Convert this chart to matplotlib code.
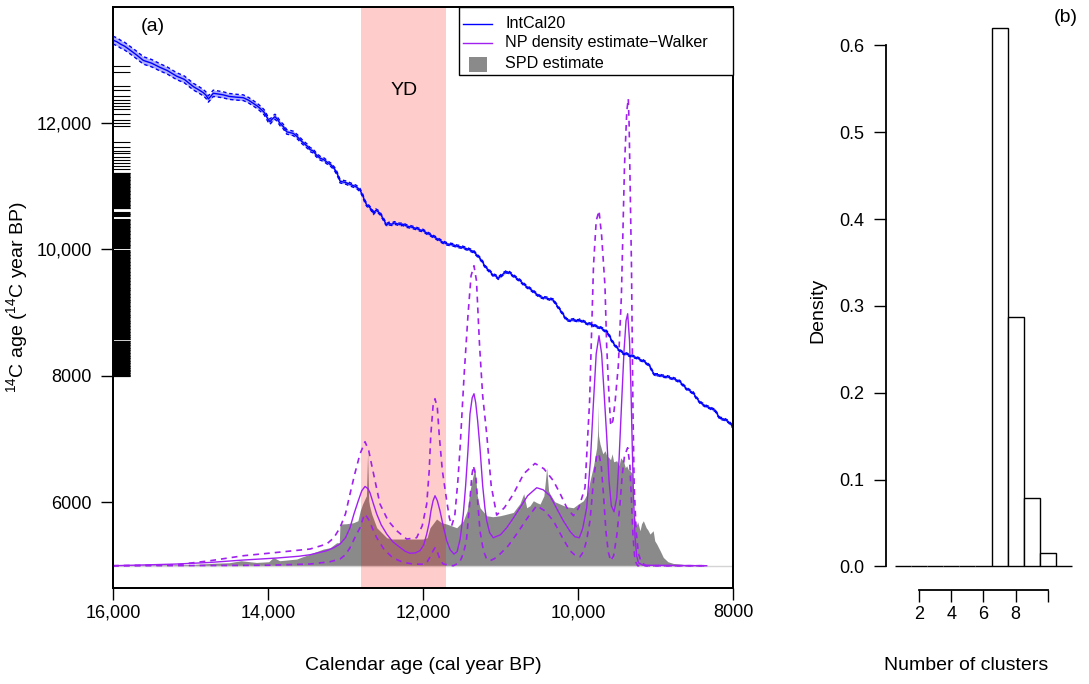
import numpy as np
import matplotlib
matplotlib.use("Agg")
import matplotlib.pyplot as plt
from matplotlib.patches import Rectangle
from matplotlib.lines import Line2D

plt.rcParams['font.family'] = ['Liberation Sans', 'DejaVu Sans']
plt.rcParams['mathtext.default'] = 'regular'

# ---------------- IntCal20 calibration curve (cal BP, 14C BP, 2-sigma half width)
intcal_cal = [16000, 15950, 15900, 15850, 15781, 15700, 15609, 15500, 15394, 15300,
              15178, 15080, 14963, 14900, 14835, 14800, 14770, 14740, 14706, 14650,
              14577, 14500, 14405, 14319, 14250, 14190, 14140, 14103, 14050, 14000,
              13974, 13940, 13910, 13880, 13845, 13800, 13759, 13720, 13673, 13620,
              13565, 13520, 13480, 13458, 13420, 13380, 13329, 13280, 13221, 13180,
              13140, 13113, 13090, 13071, 13040, 13000, 12942, 12900, 12860, 12813,
              12780, 12750, 12726, 12700, 12670, 12640, 12610, 12580, 12555, 12520,
              12490, 12468, 12440, 12400, 12370, 12339, 12300, 12260, 12210, 12168,
              12120, 12080, 12039, 12000, 11950, 11900, 11867, 11830, 11790, 11750,
              11694, 11650, 11600, 11560, 11523, 11480, 11430, 11390, 11351, 11310,
              11265, 11230, 11200, 11160, 11135, 11100, 11060, 11028, 11000, 10960,
              10920, 10880, 10840, 10791, 10750, 10700, 10662, 10620, 10580, 10540,
              10490, 10450, 10400, 10360, 10318, 10280, 10232, 10200, 10170, 10146,
              10100, 10050, 10000, 9974, 9930, 9880, 9840, 9802, 9760, 9720,
              9680, 9630, 9600, 9570, 9544, 9500, 9460, 9415, 9380, 9340,
              9286, 9240, 9200, 9160, 9114, 9070, 9040, 9006, 8960, 8920,
              8856, 8800, 8750, 8684, 8640, 8600, 8560, 8512, 8470, 8430,
              8400, 8339, 8300, 8260, 8232, 8200, 8168, 8120, 8090, 8061,
              8030, 8000]
intcal_c14 = [13310, 13285, 13245, 13215, 13154, 13080, 12990, 12945, 12880, 12830,
              12740, 12690, 12575, 12530, 12480, 12440, 12380, 12420, 12470, 12460,
              12445, 12420, 12408, 12400, 12360, 12312, 12270, 12232, 12170, 12060,
              12021, 12070, 12100, 12060, 11995, 11940, 11860, 11850, 11835, 11780,
              11710, 11660, 11620, 11580, 11560, 11500, 11445, 11420, 11365, 11330,
              11270, 11210, 11150, 11080, 11070, 11060, 11030, 11010, 10990, 10940,
              10860, 10760, 10705, 10680, 10640, 10575, 10620, 10600, 10570, 10500,
              10430, 10390, 10410, 10400, 10420, 10410, 10395, 10400, 10370, 10360,
              10345, 10330, 10310, 10300, 10260, 10230, 10205, 10180, 10150, 10120,
              10090, 10080, 10070, 10050, 10045, 10030, 10010, 9990, 9970, 9920,
              9860, 9800, 9730, 9680, 9650, 9600, 9580, 9545, 9580, 9620,
              9650, 9630, 9590, 9545, 9510, 9450, 9412, 9380, 9340, 9300,
              9255, 9240, 9230, 9215, 9200, 9130, 9045, 8990, 8930, 8890,
              8880, 8890, 8870, 8885, 8860, 8830, 8820, 8805, 8780, 8770,
              8740, 8700, 8650, 8570, 8520, 8450, 8400, 8360, 8350, 8330,
              8307, 8290, 8260, 8240, 8202, 8150, 8070, 8016, 8020, 8000,
              7990, 7970, 7950, 7910, 7850, 7800, 7770, 7730, 7650, 7590,
              7560, 7515, 7500, 7470, 7460, 7390, 7330, 7320, 7300, 7280,
              7240, 7190]
intcal_sd2 = [62, 62, 62, 61, 60, 60, 59, 58, 57, 56,
              55, 54, 53, 52, 51, 51, 50, 50, 50, 49,
              48, 47, 46, 45, 44, 43, 42, 42, 41, 40,
              40, 39, 39, 38, 38, 37, 36, 36, 35, 34,
              34, 33, 33, 32, 32, 31, 30, 30, 29, 29,
              28, 28, 27, 27, 27, 26, 26, 25, 25, 25,
              24, 24, 24, 23, 23, 23, 23, 22, 22, 22,
              22, 22, 22, 21, 21, 21, 21, 21, 21, 21,
              20, 20, 20, 20, 20, 20, 20, 20, 20, 20,
              20, 20, 20, 20, 20, 20, 20, 20, 20, 20,
              19, 19, 19, 19, 19, 19, 19, 19, 19, 19,
              19, 19, 19, 19, 19, 19, 19, 19, 19, 19,
              18, 18, 18, 18, 18, 18, 18, 18, 18, 18,
              18, 18, 18, 18, 18, 18, 18, 18, 18, 18,
              18, 18, 18, 18, 18, 18, 18, 18, 18, 18,
              18, 18, 18, 18, 18, 18, 18, 18, 18, 18,
              18, 18, 18, 18, 18, 18, 18, 18, 18, 18,
              18, 18, 18, 18, 18, 18, 18, 18, 18, 18,
              18, 18]

# ---------------- observed 14C determinations (rug)
rug_c14 = [8000, 8004, 8015, 8022, 8031, 8046, 8053, 8060, 8074, 8081, 8095, 8102, 8110,
           8126, 8133, 8147, 8158, 8164, 8179, 8190, 8201, 8208, 8222, 8236, 8243, 8257,
           8266, 8280, 8288, 8299, 8314, 8322, 8335, 8345, 8358, 8370, 8377, 8391, 8404,
           8412, 8427, 8436, 8450, 8458, 8471, 8485, 8494, 8505, 8519, 8527, 8540, 8553,
           8561, 8577, 8589, 8597, 8612, 8620, 8634, 8648, 8655, 8668, 8680, 8691, 8703,
           8716, 8724, 8739, 8750, 8758, 8772, 8785, 8796, 8807, 8820, 8833, 8841, 8856,
           8869, 8877, 8890, 8903, 8914, 8925, 8938, 8946, 8961, 8972, 8985, 8993, 9008,
           9020, 9031, 9042, 9055, 9063, 9078, 9090, 9101, 9113, 9127, 9136, 9150, 9162,
           9170, 9185, 9197, 9208, 9219, 9233, 9245, 9253, 9268, 9281, 9290, 9304, 9316,
           9327, 9340, 9352, 9361, 9376, 9390, 9398, 9412, 9425, 9436, 9447, 9460, 9472,
           9485, 9496, 9508, 9521, 9533, 9544, 9557, 9568, 9582, 9594, 9603, 9617, 9630,
           9641, 9652, 9666, 9677, 9690, 9701, 9713, 9726, 9738, 9749, 9762, 9774, 9786,
           9797, 9810, 9823, 9834, 9846, 9858, 9870, 9883, 9895, 9906, 9919, 9931, 9943,
           9955, 9968, 9980, 9992, 10030, 10041, 10054, 10066, 10079, 10090, 10103, 10115,
           10127, 10139, 10152, 10164, 10176, 10189, 10200, 10213, 10225, 10238, 10250,
           10262, 10274, 10287, 10299, 10311, 10324, 10336, 10348, 10360, 10373, 10385,
           10397, 10410, 10422, 10434, 10446, 10459, 10471, 10490, 10531, 10543, 10556,
           10568, 10580, 10597, 10650, 10662, 10675, 10686, 10699, 10711, 10722, 10736,
           10748, 10760, 10772, 10785, 10797, 10810, 10822, 10834, 10846, 10859, 10871,
           10883, 10896, 10908, 10920, 10932, 10945, 10957, 10969, 10982, 10994, 11006,
           11018, 11031, 11043, 11055, 11068, 11080, 11092, 11104, 11117, 11129, 11141,
           11153, 11166, 11178, 11190, 11202, 11211, 11280, 11317, 11370, 11413, 11465,
           11519, 11561, 11624, 11703, 11952, 11995, 12048, 12143, 12217, 12270, 12323,
           12365, 12429, 12524, 12587, 12805, 12894]

# ---------------- summed probability distribution (relative density units)
spd_cal = [16000, 15500, 15000, 14700, 14500, 14350, 14150, 13990, 13931, 13850,
           13630, 13458, 13286, 13200, 13114, 13080, 13071, 12990, 12900, 12840,
           12810, 12780, 12730, 12715, 12700, 12690, 12662, 12597, 12468, 12400,
           12200, 12000, 11948, 11910, 11825, 11760, 11694, 11565, 11480, 11430,
           11394, 11360, 11330, 11300, 11265, 11178, 11100, 11006, 10950, 10900,
           10834, 10790, 10750, 10700, 10662, 10620, 10576, 10530, 10490, 10440,
           10404, 10380, 10361, 10300, 10232, 10150, 10060, 9990, 9931, 9880,
           9845, 9800, 9759, 9745, 9740, 9735, 9716, 9680, 9650, 9630,
           9600, 9580, 9560, 9540, 9500, 9470, 9450, 9410, 9390, 9372,
           9350, 9329, 9300, 9286, 9270, 9250, 9230, 9200, 9180, 9157,
           9120, 9100, 9071, 9030, 9010, 8984, 8940, 8899, 8840, 8770,
           8555, 8340]
spd_val = [0.5, 0.8, 1.2, 2.5, 3.0, 5.0, 3.3, 4.0, 8.3, 5.0,
           6.7, 11.7, 16.7, 18.0, 23.0, 23.0, 41.7, 42.0, 43.0, 45.0,
           55.0, 61.7, 70.0, 113.0, 65.0, 60.0, 51.7, 38.0, 28.0, 26.7,
           26.7, 26.7, 28.0, 38.0, 46.7, 43.0, 41.7, 38.0, 45.0, 55.0,
           75.0, 88.0, 98.0, 70.0, 58.0, 50.0, 49.0, 50.0, 51.0, 52.0,
           53.3, 58.0, 62.0, 72.0, 58.0, 60.0, 65.0, 63.0, 61.7, 70.0,
           98.0, 75.0, 71.7, 64.0, 61.7, 59.0, 58.0, 62.0, 65.0, 72.0,
           85.0, 100.0, 118.0, 135.0, 160.0, 130.0, 121.7, 112.0, 115.0, 110.0,
           108.0, 106.0, 112.0, 104.0, 105.0, 100.0, 108.0, 104.0, 98.0, 100.0,
           96.0, 95.0, 92.0, 38.0, 50.0, 40.0, 44.0, 35.0, 42.0, 45.0,
           38.0, 36.0, 31.7, 35.0, 25.0, 21.7, 15.0, 8.3, 4.0, 2.3,
           0.7, 0.0]

# ---------------- NP density estimate: posterior mean and 95% interval
np_cal = [16000, 15500, 15178, 14748, 14319, 13888, 13600, 13458, 13243, 13150,
          13071, 13000, 12942, 12890, 12835, 12790, 12748, 12710, 12684, 12640,
          12597, 12540, 12468, 12390, 12297, 12230, 12168, 12100, 12039, 11990,
          11952, 11920, 11897, 11870, 11845, 11815, 11781, 11740, 11694, 11650,
          11600, 11560, 11520, 11480, 11450, 11420, 11394, 11365, 11342, 11320,
          11295, 11265, 11230, 11200, 11178, 11140, 11093, 11000, 10920, 10840,
          10748, 10650, 10533, 10450, 10361, 10280, 10190, 10100, 10040, 9983,
          9940, 9888, 9840, 9803, 9765, 9729, 9695, 9665, 9630, 9600,
          9570, 9535, 9500, 9471, 9436, 9406, 9380, 9359, 9335, 9316,
          9300, 9286, 9265, 9243, 9220, 9161, 8339]
np_mean = [0.0, 1.0, 1.7, 3.3, 5.7, 7.7, 9.5, 11.0, 15.0, 18.0,
           21.7, 28.0, 38.0, 52.0, 65.0, 75.0, 79.3, 77.0, 73.0, 62.0,
           51.7, 41.0, 31.7, 24.0, 18.3, 14.5, 12.5, 12.8, 15.0, 21.0,
           31.7, 43.0, 55.0, 65.0, 70.0, 65.0, 55.0, 40.0, 25.0, 16.0,
           11.7, 14.0, 27.0, 51.7, 80.0, 115.0, 151.7, 168.0, 172.0, 163.0,
           145.0, 118.0, 80.0, 57.0, 45.0, 33.0, 28.0, 31.0, 38.0, 47.0,
           58.0, 70.0, 78.0, 76.0, 70.0, 58.0, 45.0, 34.0, 29.0, 28.0,
           37.0, 58.0, 105.0, 160.0, 212.0, 230.0, 212.0, 175.0, 130.0, 85.0,
           60.0, 54.0, 68.0, 105.0, 165.0, 215.0, 245.0, 252.0, 225.0, 175.0,
           120.0, 75.0, 30.0, 10.0, 3.0, 0.5, 0.0]
np_up_cal = [16000, 15500, 15178, 14748, 14319, 13888, 13458, 13243, 13150, 13071,
             13000, 12942, 12880, 12813, 12748, 12700, 12660, 12600, 12555, 12450,
             12339, 12211, 12082, 12010, 11952, 11920, 11900, 11870, 11845, 11815,
             11790, 11750, 11694, 11660, 11630, 11590, 11550, 11520, 11470, 11420,
             11380, 11342, 11310, 11270, 11230, 11178, 11120, 11049, 10950, 10834,
             10700, 10555, 10440, 10318, 10230, 10146, 10060, 9990, 9910, 9850,
             9800, 9765, 9729, 9695, 9652, 9630, 9600, 9578, 9550, 9520,
             9480, 9440, 9400, 9370, 9351, 9340, 9310, 9290, 9275, 9250,
             9220, 9180, 9120, 8339]
np_upper = [0.0, 0.5, 1.0, 5.0, 10.0, 13.3, 16.7, 21.7, 28.0, 38.0,
            52.0, 71.7, 92.0, 111.7, 124.0, 115.0, 100.0, 78.0, 61.7, 45.0,
            35.0, 26.7, 28.0, 40.0, 61.7, 95.0, 130.0, 160.0, 167.0, 158.0,
            130.0, 95.0, 65.0, 48.0, 40.0, 50.0, 85.0, 120.0, 190.0, 250.0,
            290.0, 300.0, 285.0, 220.0, 170.0, 131.7, 80.0, 50.7, 58.0, 71.7,
            92.0, 102.3, 97.0, 85.0, 72.0, 58.3, 50.0, 58.0, 78.0, 165.0,
            300.0, 345.0, 355.0, 330.0, 280.0, 220.0, 170.0, 140.0, 145.0, 165.0,
            200.0, 270.0, 400.0, 455.0, 467.0, 440.0, 300.0, 150.0, 80.0, 35.0,
            12.0, 3.0, 0.0, 0.0]
np_lo_cal = [16000, 14500, 14000, 13458, 13200, 13071, 13000, 12942, 12880, 12813,
             12770, 12748, 12700, 12650, 12597, 12500, 12390, 12260, 12130, 12000,
             11952, 11900, 11870, 11845, 11815, 11780, 11740, 11610, 11530, 11480,
             11440, 11400, 11370, 11350, 11320, 11290, 11265, 11220, 11180, 11135,
             11080, 11006, 10900, 10791, 10650, 10533, 10430, 10318, 10200, 10103,
             10030, 9974, 9930, 9890, 9845, 9800, 9760, 9730, 9700, 9670,
             9640, 9610, 9578, 9540, 9500, 9460, 9430, 9400, 9359, 9330,
             9310, 9290, 9270, 9250, 9230, 8339]
np_lower = [0.0, 0.3, 0.5, 1.7, 4.0, 6.7, 11.0, 18.0, 28.0, 38.0,
            48.0, 51.7, 46.0, 37.0, 28.0, 16.0, 8.0, 3.5, 1.7, 1.5,
            3.0, 10.0, 15.0, 18.0, 14.0, 6.0, 1.7, 0.0, 3.0, 12.0,
            25.0, 60.0, 90.0, 100.0, 90.0, 60.0, 35.0, 15.0, 7.0, 5.0,
            7.0, 11.7, 20.0, 31.7, 48.0, 60.0, 55.0, 45.0, 28.0, 15.0,
            10.0, 9.0, 14.0, 25.0, 45.0, 85.0, 110.0, 112.0, 100.0, 70.0,
            35.0, 14.0, 5.0, 10.0, 30.0, 60.0, 90.0, 110.0, 118.0, 100.0,
            65.0, 30.0, 10.0, 3.0, 0.0, 0.0]

# ---------------- posterior number of clusters
n_clusters = [1, 2, 3, 4, 5, 6, 7, 8, 9, 10, 11]
cluster_density = [0, 0, 0, 0, 0, 0, 0.620, 0.287, 0.079, 0.015, 0.001]

YD_START, YD_END = 12800, 11700
DENS_BASE_C14 = 5000        # 14C level where the density baseline sits
C14_PER_DENS_UNIT = 15.81   # vertical scaling of density onto the 14C axis

BLUE = '#0000FF'
PURPLE = '#A020F0'
GREY = '#8a8a8a'
TICK_LEN, TICK_PAD = 8.3, 7.0

W, H = 1089, 684
fig = plt.figure(figsize=(W / 100, H / 100), dpi=100)

# ---- panel (a)
AX_L, AX_R, AX_T, AX_B = 113, 733, 6.5, 588
ax_d = fig.add_axes([AX_L / W, (H - AX_B) / H, (AX_R - AX_L) / W, (AX_B - AX_T) / H])
ax = ax_d.twinx()
ax.set_zorder(ax_d.get_zorder() + 1)
ax.patch.set_visible(False)

ax_d.set_xlim(16000, 8000)
ylo, yhi = 4648, 13842
ax.set_ylim(ylo, yhi)
ax_d.set_ylim((ylo - DENS_BASE_C14) / C14_PER_DENS_UNIT,
              (yhi - DENS_BASE_C14) / C14_PER_DENS_UNIT)

# SPD, YD band and NP density (lower layer)
ax_d.fill_between(spd_cal, 0, spd_val, color=GREY, lw=0, zorder=1)
ax_d.axhline(0, color='#d4d4d4', lw=1.0, zorder=1.5)
ax_d.axvspan(YD_START, YD_END, color='red', alpha=0.2, lw=0, zorder=2)
ax_d.plot(np_cal, np_mean, color=PURPLE, lw=1.0, zorder=3)
ax_d.plot(np_up_cal, np_upper, color=PURPLE, lw=1.2, dashes=(3.5, 3), zorder=3)
ax_d.plot(np_lo_cal, np_lower, color=PURPLE, lw=1.2, dashes=(3.5, 3), zorder=3)
ax_d.text(12250, 475, 'YD', ha='center', va='center', fontsize=14)

# IntCal20 curve and rug (upper layer)
c14 = np.array(intcal_c14, float)
sd2 = np.array(intcal_sd2, float)
ax.fill_between(intcal_cal, c14 - sd2, c14 + sd2, color='#8c8cff', alpha=0.7, lw=0)
ax.plot(intcal_cal, c14 + sd2, color=BLUE, lw=1.0, dashes=(2.5, 2))
ax.plot(intcal_cal, c14 - sd2, color=BLUE, lw=1.0, dashes=(2.5, 2))
ax.plot(intcal_cal, c14, color=BLUE, lw=1.0)
ax.hlines(rug_c14, 0, 17 / 620, transform=ax.get_yaxis_transform(),
          color='black', lw=0.8)

for a in (ax, ax_d):
    for s in a.spines.values():
        s.set_linewidth(1.3)
ax_d.yaxis.set_visible(False)
ax_d.set_xticks([16000, 14000, 12000, 10000, 8000])
ax_d.set_xticklabels(['16,000', '14,000', '12,000', '10,000', '8000'])
ax_d.tick_params(axis='x', direction='out', length=TICK_LEN, width=1, labelsize=13, pad=3.5)
ax.yaxis.tick_left()
ax.yaxis.set_label_position('left')
ax.set_yticks([6000, 8000, 10000, 12000])
ax.set_yticklabels(['6000', '8000', '10,000', '12,000'])
ax.tick_params(axis='y', direction='out', length=TICK_LEN, width=1, labelsize=13,
               pad=TICK_PAD)
ax.tick_params(axis='y', which='both', right=False, labelright=False)
ax_d.set_xlabel('Calendar age (cal year BP)', fontsize=14)
ax_d.xaxis.set_label_coords(0.5, -0.118)
ax.set_ylabel('$^{14}$C age ($^{14}$C year BP)', fontsize=14)
ax.yaxis.set_label_coords(-0.134, 0.5)
ax.text(0.064, 0.98, '(a)', transform=ax.transAxes, fontsize=14, ha='center', va='top')


# legend box, drawn in pixel-based axes fractions
def axfrac(xp, yp):
    return (xp - AX_L) / (AX_R - AX_L), (AX_B - yp) / (AX_B - AX_T)


lx0, ly0 = axfrac(459, 75)
lx1, ly1 = axfrac(733, AX_T)
ax.add_patch(Rectangle((lx0, ly0), lx1 - lx0, ly1 - ly0, transform=ax.transAxes,
                       facecolor='white', edgecolor='black', lw=1.0, zorder=10,
                       clip_on=False))
for ypix, col in ((24, BLUE), (43, PURPLE)):
    xa, ya = axfrac(463, ypix)
    xb, _ = axfrac(492, ypix)
    ax.add_line(Line2D([xa, xb], [ya, ya], transform=ax.transAxes, color=col,
                       lw=1.0, zorder=11))
sx0, sy0 = axfrac(469, 72)
sx1, sy1 = axfrac(487, 57)
ax.add_patch(Rectangle((sx0, sy0), sx1 - sx0, sy1 - sy0, transform=ax.transAxes,
                       facecolor=GREY, edgecolor='none', zorder=11))
for ypix, label in ((24, 'IntCal20'), (43, 'NP density estimate\u2212Walker'),
                    (63, 'SPD estimate')):
    tx, ty = axfrac(505, ypix)
    ax.text(tx, ty, label, transform=ax.transAxes, fontsize=11.6, ha='left',
            va='center', zorder=12)

# ---- panel (b)
HX_L, HX_R = 886, 1079
axh = fig.add_axes([HX_L / W, (H - AX_B) / H, (HX_R - HX_L) / W, (AX_B - AX_T) / H])
axh.bar(n_clusters, cluster_density, width=1.0, color='white', edgecolor='black', lw=1.0)
axh.set_xlim(-0.06, 11.94)
axh.set_ylim(-0.0248, 0.6448)
axh.spines['top'].set_visible(False)
axh.spines['right'].set_visible(False)
axh.spines['left'].set_bounds(0, 0.6)
axh.spines['bottom'].set_bounds(2, 10)
axh.spines['bottom'].set_position(('outward', 1.5))
for s in ('left', 'bottom'):
    axh.spines[s].set_linewidth(1.3)
axh.set_yticks([0, 0.1, 0.2, 0.3, 0.4, 0.5, 0.6])
axh.set_yticklabels(['0.0', '0.1', '0.2', '0.3', '0.4', '0.5', '0.6'])
axh.set_xticks([2, 4, 6, 8, 10])
axh.set_xticklabels(['2', '4', '6', '8', ''])
axh.tick_params(direction='out', length=TICK_LEN, width=1, labelsize=13)
axh.tick_params(axis='y', pad=TICK_PAD)
axh.tick_params(axis='x', pad=3.5)
axh.set_ylabel('Density', fontsize=14)
axh.yaxis.set_label_coords(-0.31, 0.478)
fig.text(966 / W, 1 - 665 / H, 'Number of clusters', fontsize=14, ha='center', va='center')
fig.text(1066 / W, 1 - 18 / H, '(b)', fontsize=14, ha='center', va='center')

fig.savefig('out.png', dpi=100)
